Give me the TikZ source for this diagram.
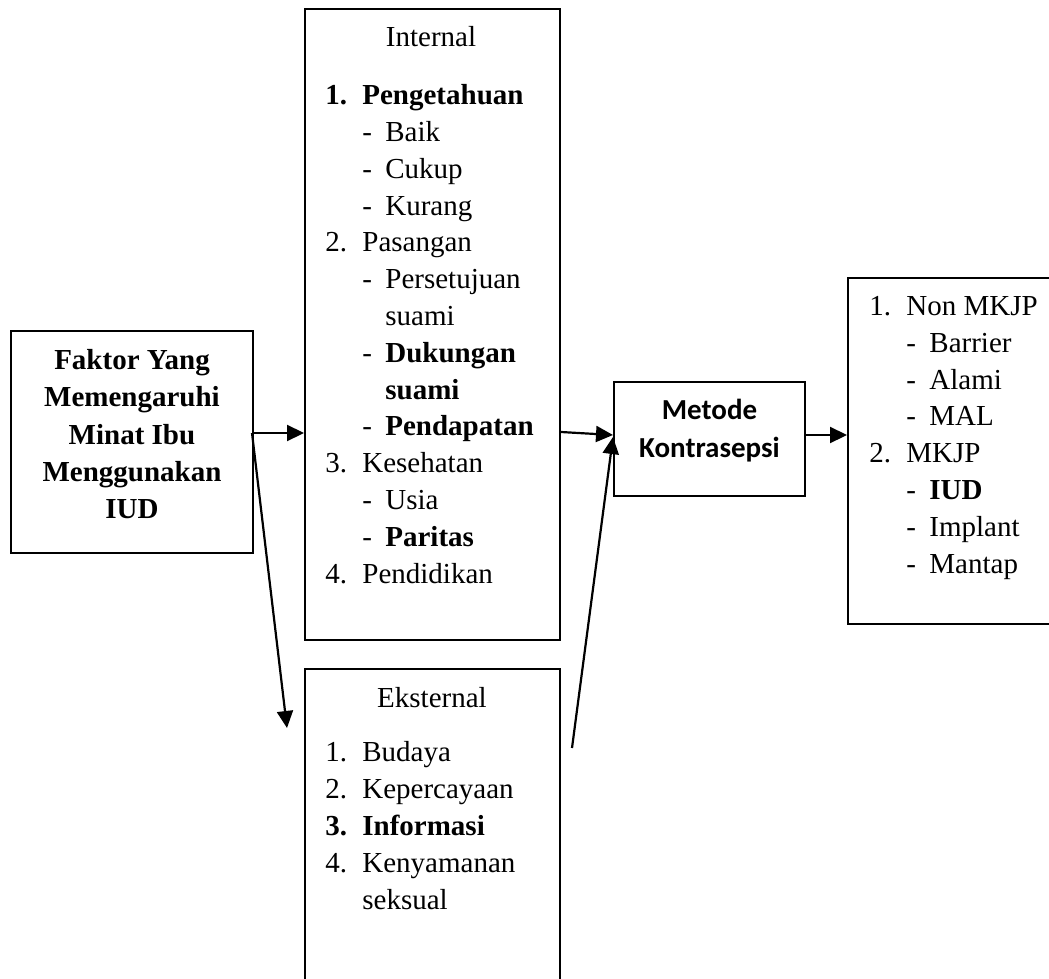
\documentclass[tikz,border=0pt]{standalone}
\usepackage{fontspec}
\setmainfont{Liberation Serif}
\newfontfamily\calibrifont{Carlito}
\usetikzlibrary{arrows.meta,positioning}

\newcommand{\numitem}[2]{\makebox[18.5pt][l]{#1}#2}
\newcommand{\dashitem}[1]{\hspace*{18.5pt}\makebox[11.5pt][l]{-}#1}
\newcommand{\contline}[1]{\hspace*{30pt}#1}

\begin{document}
\begin{tikzpicture}[
    x=0.5pt, y=-0.5pt,
    font=\fontsize{14.5}{18.4}\selectfont,
    box/.style={rectangle, draw=black, line width=1pt, inner sep=0pt, anchor=north west},
    head/.style={inner sep=0pt, anchor=base},
    list/.style={inner sep=0pt, align=left, anchor=base west},
    arr/.style={-{Triangle[length=8.5pt, width=8pt]}, line width=1.1pt}
  ]
    \useasboundingbox (0,0) rectangle (1049,979);
    % boxes
    \node[box, minimum width=121pt, minimum height=111pt, align=center, text depth=8pt,
      font=\fontsize{14.5}{18.6}\selectfont\bfseries] (fak) at (10,330)
      {Faktor Yang\\Memengaruhi\\Minat Ibu\\Menggunakan\\IUD};
    \node[box, minimum width=127.5pt, minimum height=315.5pt] (intl) at (304,8) {};
    \node[box, minimum width=127.5pt, minimum height=171pt] (eks) at (304,668) {};
    \node[box, minimum width=95.5pt, minimum height=57pt, align=center, text depth=11pt,
      font={\calibrifont\fontsize{14.5}{19}\selectfont\bfseries}] (met) at (613,381)
      {Metode\\Kontrasepsi};
    \node[box, minimum width=115pt, minimum height=173pt] (mkjp) at (847,277) {};
    % internal (anchored on the last line)
    \node[head] (intlhd) at (431,47) {Internal};
    \node[list] (intllst) at (325,583) {%
      \textbf{\numitem{1.}{Pengetahuan}}\\
      \dashitem{Baik}\\
      \dashitem{Cukup}\\
      \dashitem{Kurang}\\
      \numitem{2.}{Pasangan}\\
      \dashitem{Persetujuan}\\
      \contline{suami}\\
      \dashitem{\textbf{Dukungan}}\\
      \contline{\textbf{suami}}\\
      \dashitem{\textbf{Pendapatan}}\\
      \numitem{3.}{Kesehatan}\\
      \dashitem{Usia}\\
      \dashitem{\textbf{Paritas}}\\
      \numitem{4.}{Pendidikan}};
    % eksternal
    \node[head] (ekshd) at (432,707) {Eksternal};
    \node[list] (ekslst) at (325,909) {%
      \numitem{1.}{Budaya}\\
      \numitem{2.}{Kepercayaan}\\
      \textbf{\numitem{3.}{Informasi}}\\
      \numitem{4.}{Kenyamanan}\\
      \hspace*{18.5pt}seksual};
    % jenis kontrasepsi
    \node[list] (mkjplst) at (869,573) {%
      \numitem{1.}{Non MKJP}\\
      \dashitem{Barrier}\\
      \dashitem{Alami}\\
      \dashitem{MAL}\\
      \numitem{2.}{MKJP}\\
      \dashitem{\textbf{IUD}}\\
      \dashitem{Implant}\\
      \dashitem{Mantap}};
    % arrows
    \coordinate (fakout) at (252,433);
    \coordinate (ekstip) at (287,728);
    \coordinate (ekssrc) at (572,748);
    \draw[arr] (fakout) -- (fakout -| intl.west);
    \draw[arr] (fakout) -- (ekstip);
    \draw[arr] (intl.east |- 0,432) -- (met.west |- 0,435);
    \draw[arr] (ekssrc) -- (met.west |- 0,437);
    \draw[arr] (met.east |- 0,435) -- (mkjp.west |- 0,435);
  \end{tikzpicture}
\end{document}
